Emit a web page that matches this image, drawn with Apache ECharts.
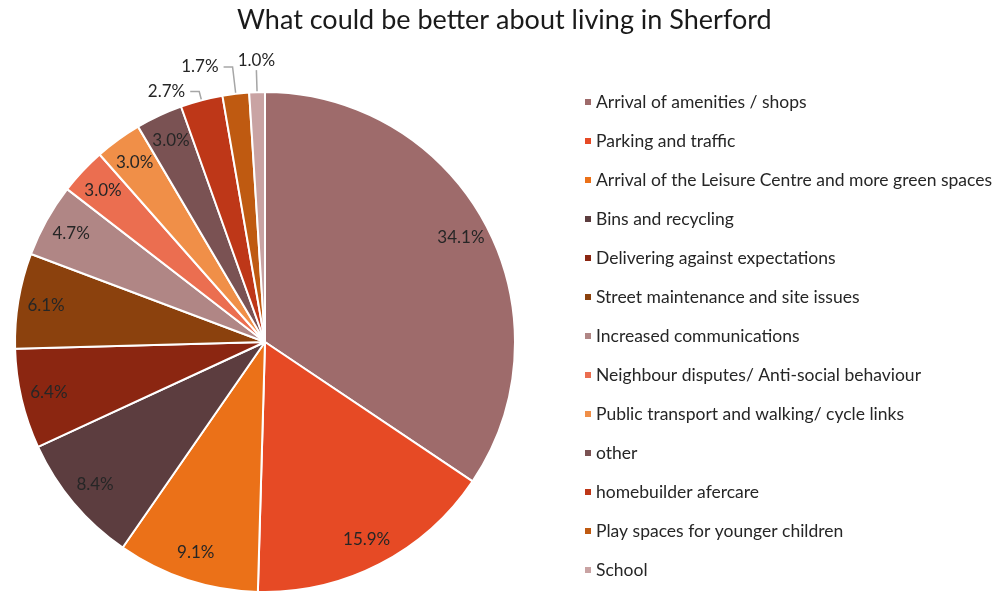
<!DOCTYPE html>
<html>
<head>
<meta charset="utf-8">
<script src="https://cdn.jsdelivr.net/npm/echarts@6/dist/echarts.min.js"></script>
<style>
  html, body { margin: 0; padding: 0; background: #fff; }
  #chart { width: 994px; height: 592px; }
</style>
</head>
<body>
<div id="chart"></div>
<script>
// Survey categories and their share of responses (%)
const categories = [
  'Arrival of amenities / shops',
  'Parking and traffic',
  'Arrival of the Leisure Centre and more green spaces',
  'Bins and recycling',
  'Delivering against expectations',
  'Street maintenance and site issues',
  'Increased communications',
  'Neighbour disputes/ Anti-social behaviour',
  'Public transport and walking/ cycle links',
  'other',
  'homebuilder afercare',
  'Play spaces for younger children',
  'School'
];
const shares = [34.1, 15.9, 9.1, 8.4, 6.4, 6.1, 4.7, 3.0, 3.0, 3.0, 2.7, 1.7, 1.0];
const palette = [
  '#9E6B6B', '#E64A25', '#EB7118', '#5C3D3F', '#8B2611', '#8B410D', '#B08685',
  '#EB6E50', '#F08F48', '#7A5253', '#BE3718', '#BF5A11', '#C9A3A3'
];
// Slices too thin for an inside label get an outside label with a leader line
const outsideLabels = {
  'homebuilder afercare': { length: 9, length2: 9 },
  'Play spaces for younger children': { length: 27, length2: 9 },
  'School': { length: 22, length2: 0, above: true }
};

const FONT = 'Lato, "Open Sans", sans-serif';
const fmt = p => p.value.toFixed(1) + '%';

const chart = echarts.init(document.getElementById('chart'), null, { renderer: 'canvas' });

const mainData = categories.map((name, i) => {
  const o = outsideLabels[name];
  const item = { name, value: shares[i], itemStyle: { color: palette[i] } };
  if (o) {
    item.label = { show: true, position: 'outside' };
    item.labelLine = { show: true, length: o.length, length2: o.length2 };
  }
  return item;
});

// Transparent ring carrying the inside labels near the rim
const ringData = categories.map((name, i) => ({
  name,
  value: shares[i],
  label: { show: !outsideLabels[name] }
}));

chart.setOption({
  animation: false,
  title: {
    text: 'What could be better about living in Sherford',
    left: 232,
    top: 2,
    textStyle: { fontFamily: FONT, fontSize: 27, fontWeight: 'normal', color: '#1a1a1a' }
  },
  legend: {
    orient: 'vertical',
    left: 578,
    top: 88,
    itemWidth: 8,
    itemHeight: 8,
    itemGap: 21,
    icon: 'rect',
    data: categories,
    textStyle: { fontFamily: FONT, fontSize: 17.5, color: '#262626', padding: [0, 0, 0, -1] }
  },
  series: [
    {
      type: 'pie',
      center: [265, 342],
      radius: [0, 250],
      startAngle: 90,
      clockwise: true,
      avoidLabelOverlap: false,
      minShowLabelAngle: 0,
      // The smallest slice keeps a vertical leader with its label centred on top
      labelLayout: function (params) {
        const o = outsideLabels[categories[params.dataIndex]];
        if (!o || !o.above || !params.labelLinePoints) return {};
        const pts = params.labelLinePoints;
        const bend = pts[1];
        return {
          x: bend[0],
          y: bend[1] - 1,
          align: 'center',
          verticalAlign: 'bottom',
          labelLinePoints: [pts[0], bend, bend]
        };
      },
      data: mainData,
      itemStyle: { borderColor: '#ffffff', borderWidth: 2 },
      label: {
        show: false,
        formatter: fmt,
        fontFamily: FONT, fontSize: 17, color: '#262626'
      },
      labelLine: { show: false, lineStyle: { color: '#a6a6a6', width: 1.5 } },
      emphasis: { disabled: true }
    },
    {
      type: 'pie',
      silent: true,
      center: [265, 342],
      radius: [188, 250],
      startAngle: 90,
      clockwise: true,
      avoidLabelOverlap: false,
      data: ringData,
      itemStyle: { color: 'rgba(0,0,0,0)', borderWidth: 0 },
      label: {
        position: 'inside',
        formatter: fmt,
        fontFamily: FONT, fontSize: 17, color: '#262626'
      },
      labelLine: { show: false },
      emphasis: { disabled: true }
    }
  ]
});
</script>
</body>
</html>
